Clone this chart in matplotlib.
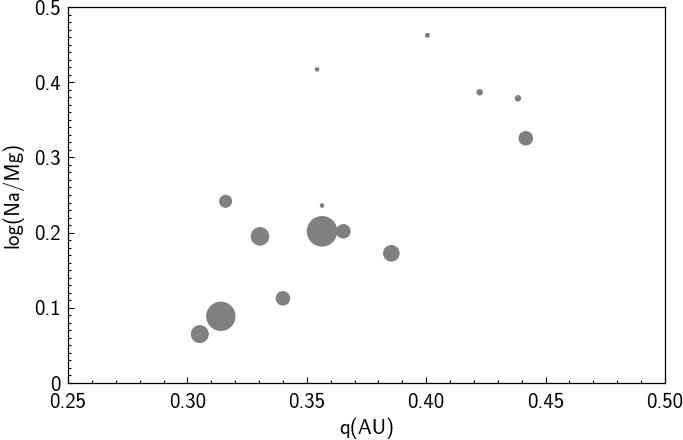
import matplotlib
matplotlib.use("Agg")
import matplotlib.pyplot as plt
from matplotlib.ticker import MultipleLocator, FixedLocator, FixedFormatter

plt.rcParams['font.family'] = ['cmss10', 'DejaVu Sans']
plt.rcParams['axes.unicode_minus'] = False

q_au = [0.316, 0.3304, 0.3564, 0.3564, 0.3653, 0.3854, 0.340, 0.314, 0.3052,
        0.4005, 0.3543, 0.4224, 0.4384, 0.4417]
log_na_mg = [0.2416, 0.195, 0.236, 0.2017, 0.2017, 0.1725, 0.1126, 0.0887, 0.065,
             0.4624, 0.417, 0.3866, 0.3786, 0.3254]
marker_size = [88, 179, 11, 485, 110, 143, 110, 448, 168,
               13, 11, 22, 22, 110]

x_ticks = [0.25, 0.30, 0.35, 0.40, 0.45, 0.50]
x_labels = ["0.25", "0.30", "0.35", "0.40", "0.45", "0.50"]
y_ticks = [0, 0.1, 0.2, 0.3, 0.4, 0.5]
y_labels = ["0", "0.1", "0.2", "0.3", "0.4", "0.5"]

fig = plt.figure(figsize=(6.83, 4.40), dpi=100)
ax = fig.add_axes([68/683, 57/440, (665-68)/683, (383-7)/440])
ax.scatter(q_au, log_na_mg, s=marker_size, color='#808080', linewidths=0, zorder=3)

ax.set_xlim(0.25, 0.50)
ax.set_ylim(0, 0.5)
ax.xaxis.set_major_locator(FixedLocator(x_ticks))
ax.xaxis.set_major_formatter(FixedFormatter(x_labels))
ax.yaxis.set_major_locator(FixedLocator(y_ticks))
ax.yaxis.set_major_formatter(FixedFormatter(y_labels))
ax.xaxis.set_minor_locator(MultipleLocator(0.01))
ax.yaxis.set_minor_locator(MultipleLocator(0.01))
ax.tick_params(which='both', direction='in', top=False, right=False, labelsize=15, width=0.8)
ax.tick_params(which='major', length=4.5)
ax.tick_params(axis='x', which='major', pad=7.5)
ax.tick_params(axis='y', which='major', pad=5)
ax.tick_params(which='minor', length=2.5)
for s in ax.spines.values():
    s.set_linewidth(0.9)

ax.set_xlabel("q(AU)", fontsize=15, labelpad=4)
ax.set_ylabel("log(Na/Mg)", fontsize=15, labelpad=8)

fig.savefig("out.png", dpi=100)
